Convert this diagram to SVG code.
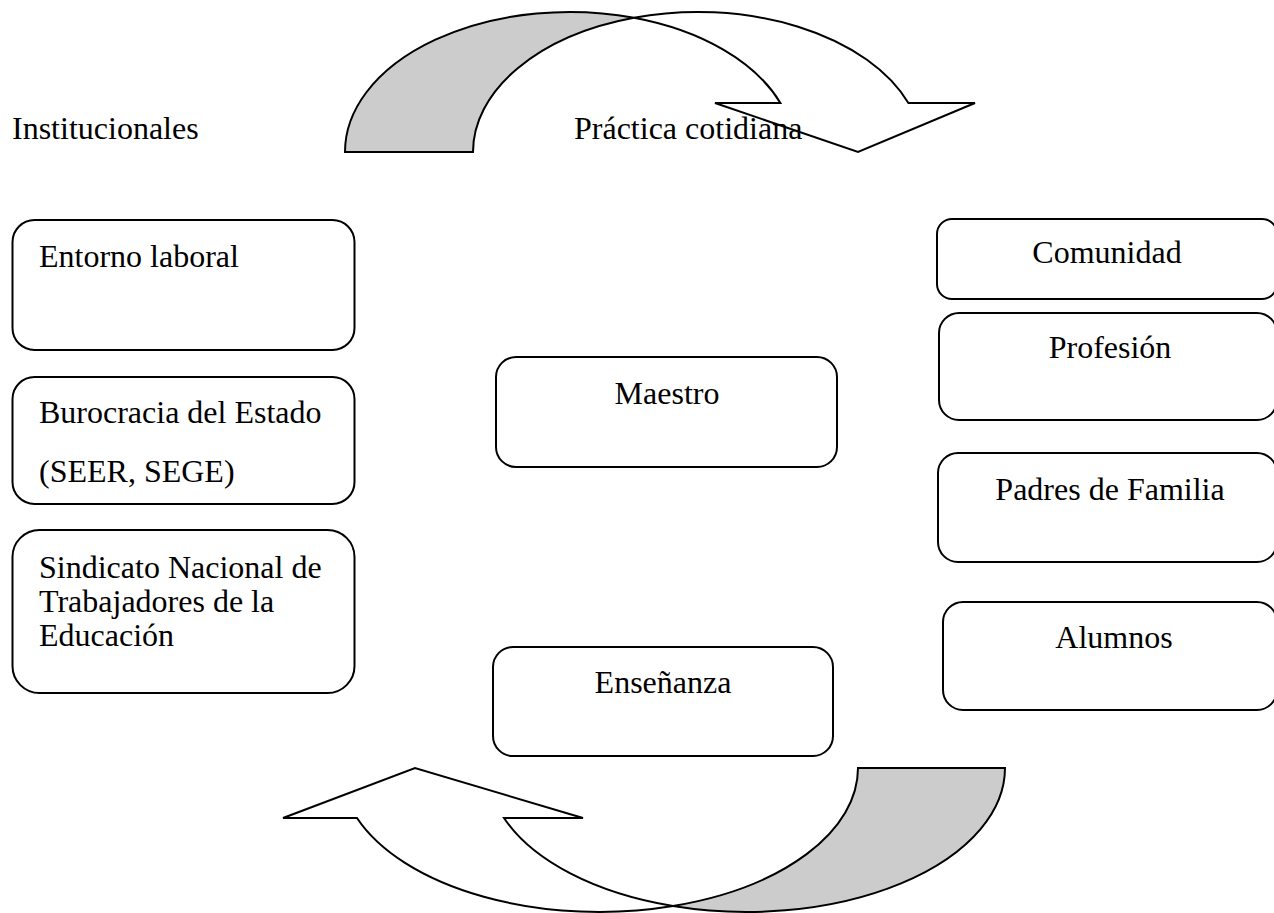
<svg xmlns="http://www.w3.org/2000/svg" width="1274" height="913" viewBox="0 0 1274 913">
<style>
.box{fill:#fff;stroke:#000;stroke-width:2}
.back{fill:#cccccc;stroke:#000;stroke-width:2;stroke-linejoin:miter}
.front{fill:#fff;stroke:#000;stroke-width:2;stroke-linejoin:miter}
text{font-family:"Liberation Serif","Times New Roman",serif;font-size:32px;fill:#000}
.c{text-anchor:middle}
</style>
<rect width="1274" height="913" fill="#fff"/>
<g id="connectors">
<path class="back" d="M345,152 A224.6,140 0 0 1 634,17.8 A224.6,140 0 0 0 473,152 Z"/>
<path class="front" d="M634,17.8 A224.6,140 0 0 1 908.4,103 L975,103 L858,152 L715,103 L780.4,103 A224.6,140 0 0 0 634,17.8 Z"/>
<path class="back" d="M1005,768 A258.5,144 0 0 1 673,906 A258.5,144 0 0 0 858,768 Z"/>
<path class="front" d="M673,906 A258.5,144 0 0 1 357,818 L283,818 L415,768 L583,818 L504,818 A258.5,144 0 0 0 673,906 Z"/>
</g>
<g id="label-institucionales"><text x="12" y="139">Institucionales</text></g>
<g id="label-practica"><text x="574" y="139">Práctica cotidiana</text></g>
<g id="entorno"><rect class="box" x="12.5" y="220" width="342" height="130" rx="22"/><text x="39" y="267">Entorno laboral</text></g>
<g id="burocracia"><rect class="box" x="12.5" y="377" width="342" height="127" rx="22"/><text x="39" y="423">Burocracia del Estado</text><text x="39" y="482">(SEER, SEGE)</text></g>
<g id="sindicato"><rect class="box" x="12.5" y="530" width="342" height="163" rx="27"/><text x="39" y="578">Sindicato Nacional de</text><text x="39" y="612">Trabajadores de la</text><text x="39" y="646">Educación</text></g>
<g id="maestro"><rect class="box" x="496" y="357" width="341" height="110" rx="20"/><text class="c" x="667" y="404">Maestro</text></g>
<g id="ensenanza"><rect class="box" x="493" y="647" width="340" height="109" rx="20"/><text class="c" x="663" y="693">Enseñanza</text></g>
<g id="comunidad"><rect class="box" x="937" y="219" width="340" height="80" rx="15"/><text class="c" x="1107" y="263">Comunidad</text></g>
<g id="profesion"><rect class="box" x="939" y="313" width="338" height="107" rx="20"/><text class="c" x="1110" y="358">Profesión</text></g>
<g id="padres"><rect class="box" x="938" y="453" width="339" height="109" rx="20"/><text class="c" x="1110" y="500">Padres de Familia</text></g>
<g id="alumnos"><rect class="box" x="943" y="602" width="334" height="108" rx="20"/><text class="c" x="1114" y="648">Alumnos</text></g>
</svg>
